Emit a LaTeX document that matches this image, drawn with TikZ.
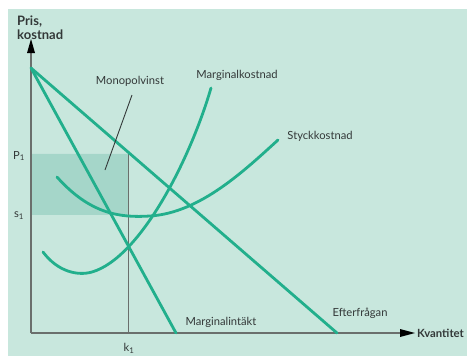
\documentclass[tikz,border=0pt]{standalone}
\usepackage{fontspec}
\setmainfont{Lato}
\usetikzlibrary{arrows.meta}
\definecolor{bg}{HTML}{C8E7DD}
\definecolor{curve}{HTML}{22AF8C}
\definecolor{boxfill}{HTML}{9FD4C6}
\definecolor{axisgray}{HTML}{6A6F6C}
\definecolor{txt}{HTML}{333838}
\tikzset{
  curveline/.style={draw=curve, line width=2.8pt, line cap=round},
  axisline/.style={draw=axisgray, line width=1.4pt},
  lbl/.style={text=txt, font=\fontsize{11.2}{13}\selectfont, inner sep=0pt},
  blbl/.style={text=txt, font=\fontsize{13}{13.5}\selectfont\bfseries, inner sep=0pt, align=left}
}
\begin{document}
\begin{tikzpicture}[x=1pt,y=-1pt]
\useasboundingbox (0,0) rectangle (467,356);
\fill[white] (0,0) rectangle (467,356);
\fill[bg] (8,9) rectangle (467,356);
% monopoly profit rectangle
\fill[boxfill, opacity=0.85] (31,153) rectangle (128,215);
\draw[white, opacity=0.35, line width=0.6pt] (31,153) -- (128,153);
% axes
\coordinate (O) at (31,333);
\draw[axisline] (O) -- (31,52);
\draw[axisline] (O) -- (401,333);
\fill[black] (31,39) -- (27,53) -- (35,53) -- cycle;
\fill[black] (415,333) -- (400,329) -- (400,337) -- cycle;
% k1 vertical
\draw[axisgray, line width=1pt] (128,153) -- (128,333);
% curves
\coordinate (A) at (31,68);
\coordinate (dEnd) at (337,333);
\coordinate (mrEnd) at (176,333);
\draw[curveline] (A) -- (dEnd);
\draw[curveline] (A) -- (mrEnd);
\draw[curveline] (43,252) .. controls (58,272) and (78,276) .. (92,272) .. controls (140,258) and (190,160) .. (211,88);
\draw[curveline] (57,177) .. controls (90,214) and (120,218) .. (150,216) .. controls (200,213) and (245,170) .. (278,140);
% labels
\node[blbl, anchor=north west] (pris) at (17,16) {Pris,\\kostnad};
\node[blbl, anchor=west, font=\fontsize{11.3}{12}\selectfont\bfseries] (kv) at (417,333) {Kvantitet};
\node[lbl] (mono) at (130,81) {Monopolvinst};
\node[lbl] (mk) at (237,75) {Marginalkostnad};
\node[lbl] (sk) at (320,136) {Styckkostnad};
\node[lbl] (mi) at (221,322) {Marginalintäkt};
\node[lbl] (ef) at (360,313) {Efterfrågan};
\node[lbl] (p1) at (19,156) {P\textsubscript{1}};
\node[lbl] (s1) at (19,216) {s\textsubscript{1}};
\node[lbl] (k1) at (129,348) {k\textsubscript{1}};
\coordinate (monoTip) at (105,170);
\draw[txt, line width=0.9pt] (132,95) -- (monoTip);
\end{tikzpicture}
\end{document}
